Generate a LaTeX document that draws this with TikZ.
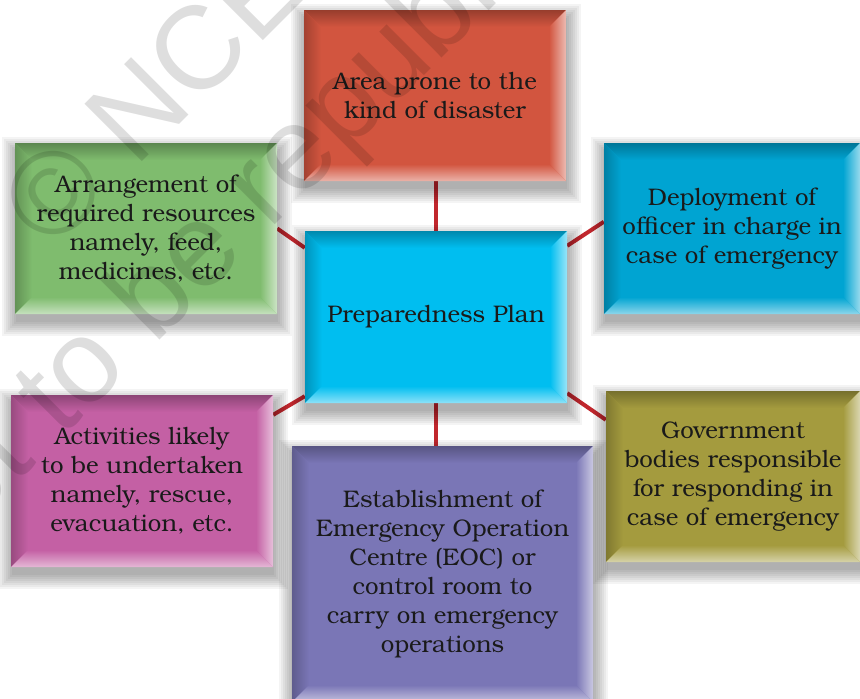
\documentclass[tikz,border=0pt]{standalone}
\usepackage{fontspec}
\setmainfont[Extension=.otf]{texgyrebonum-regular}
\newfontfamily\wmfont{Liberation Sans}
\usetikzlibrary{calc,backgrounds}
\definecolor{cRed}{HTML}{D2553F}
\definecolor{cGreen}{HTML}{7FBC6E}
\definecolor{cCyan}{HTML}{00BEF0}
\definecolor{cBlue}{HTML}{00A4D2}
\definecolor{cMag}{HTML}{C460A4}
\definecolor{cOlive}{HTML}{A49B3E}
\definecolor{cPurple}{HTML}{7A76B6}
\definecolor{cLink}{HTML}{C1272D}
\definecolor{cText}{HTML}{1A1A1A}
\newcommand\bxfont{\fontsize{24}{29}\selectfont}
\tikzset{
  pbox/.style={minimum width=262pt, minimum height=171pt, inner sep=0pt,
    align=center, text=cText, font=\bxfont, fill=#1,
    path picture={
      \coordinate (nw) at (path picture bounding box.north west);
      \coordinate (ne) at (path picture bounding box.north east);
      \coordinate (sw) at (path picture bounding box.south west);
      \coordinate (se) at (path picture bounding box.south east);
      \shade[top color=#1!72!black, bottom color=#1] (nw) -- (ne) -- ($(ne)+(-17pt,-17pt)$) -- ($(nw)+(17pt,-17pt)$) -- cycle;
      \shade[left color=#1!78!black, right color=#1] (nw) -- ($(nw)+(17pt,-17pt)$) -- ($(sw)+(17pt,17pt)$) -- (sw) -- cycle;
      \shade[left color=#1, right color=#1!40!white] (ne) -- (se) -- ($(se)+(-17pt,17pt)$) -- ($(ne)+(-17pt,-17pt)$) -- cycle;
      \shade[top color=#1, bottom color=#1!45!white] (sw) -- (se) -- ($(se)+(-17pt,17pt)$) -- ($(sw)+(17pt,17pt)$) -- cycle;
    }},
  link/.style={draw=cLink, line width=4pt},
  softshadow/.style={fill=black, opacity=0.045},
  wmark/.style={text=black, opacity=0.13, font=\wmfont\fontsize{118}{118}\selectfont, rotate=45, anchor=base west, inner sep=0pt}
}
\begin{document}
\begin{tikzpicture}[x=1pt,y=-1pt]
\useasboundingbox (0,0) rectangle (860,699);
\node[pbox=cRed] (area) at (435,95.5) {Area prone to the\\kind of disaster};
\node[pbox=cGreen] (arr) at (146,228.5) {Arrangement of\\required resources\\namely, feed,\\medicines, etc.};
\node[pbox=cCyan, minimum height=172pt] (plan) at (436,317) {Preparedness Plan};
\node[pbox=cBlue, minimum width=256pt] (dep) at (732,228.5) {Deployment of\\officer in charge in\\case of emergency};
\node[pbox=cMag, minimum height=172pt] (act) at (142,481) {Activities likely\\to be undertaken\\namely, rescue,\\evacuation, etc.};
\node[pbox=cOlive, minimum width=254pt] (gov) at (733,476.5) {Government\\bodies responsible\\for responding in\\case of emergency};
\node[pbox=cPurple, minimum width=301pt, minimum height=256pt] (eoc) at (442.5,574) {Establishment of\\Emergency Operation\\Centre (EOC) or\\control room to\\carry on emergency\\operations};
\begin{scope}[on background layer]
\fill[white] (0,0) rectangle (860,699);
\draw[link] (area.south -| plan.north) -- (plan.north);
\draw[link] (plan.south) -- (plan.south |- eoc.north);
\draw[link] (arr.east) -- ($(plan.north west)+(0,17)$);
\draw[link] ($(plan.north east)+(0,15)$) -- ($(dep.north west)+(0,79)$);
\draw[link] ($(act.north east)+(0,20)$) -- ($(plan.south west)+(0,-7)$);
\draw[link] ($(plan.south east)+(0,-10)$) -- ($(gov.north west)+(0,29)$);
\foreach \n in {area,arr,plan,dep,act,gov,eoc}{
  \foreach \i in {0,2,...,14}{
    \fill[softshadow] ($(\n.north west)+(1-\i,8-\i)$) rectangle ($(\n.south east)+(1+\i,8+\i)$);
  }
}
\end{scope}
\node[wmark] (wm1) at (51,253) {© NCERT};
\node[wmark] (wm2) at (-78,578) {not to be republished};
\end{tikzpicture}
\end{document}
